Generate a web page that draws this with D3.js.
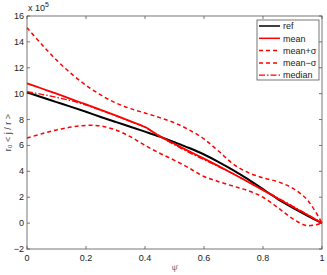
<!DOCTYPE html>
<html>
<head>
<meta charset="utf-8">
<script src="https://cdn.jsdelivr.net/npm/d3@7"></script>
<style>
  body { margin: 0; background: #fff; }
  svg { display: block; font-family: "Liberation Sans", Arial, sans-serif; }
</style>
</head>
<body>
<div id="chart"></div>
<script>
// psi grid shared by all curves
const psi = [0, 0.05, 0.1, 0.15, 0.2, 0.25, 0.3, 0.35, 0.4, 0.45, 0.5,
             0.55, 0.6, 0.65, 0.7, 0.75, 0.8, 0.85, 0.9, 0.95, 1];
// values in units of 1e5
const refVals    = [10.1, 9.72, 9.35, 8.98, 8.6, 8.2, 7.82, 7.45, 7.07, 6.68, 6.25,
                    5.8, 5.3, 4.72, 4.08, 3.38, 2.62, 1.86, 1.2, 0.58, 0];
const meanVals   = [10.8, 10.4, 10.0, 9.58, 9.17, 8.75, 8.32, 7.88, 7.42, 6.72, 6.12,
                    5.55, 4.98, 4.4, 3.8, 3.18, 2.55, 1.9, 1.27, 0.64, 0];
const plusVals   = [15.1, 13.8, 12.6, 11.55, 10.65, 9.9, 9.3, 8.85, 8.5, 8.15, 7.75,
                    7.2, 6.5, 5.55, 4.55, 3.9, 3.5, 3.2, 2.7, 1.8, 0];
const minusVals  = [6.57, 6.9, 7.2, 7.42, 7.55, 7.5, 7.2, 6.68, 6.0, 5.4, 4.85,
                    4.25, 3.6, 3.2, 2.85, 2.5, 2.0, 1.2, 0.35, -0.2, 0];
const medianVals = [10.15, 9.95, 9.72, 9.45, 9.12, 8.72, 8.3, 7.85, 7.4, 6.7, 6.05,
                    5.45, 4.9, 4.35, 3.8, 3.2, 2.58, 1.95, 1.32, 0.68, 0];

const xTicks = [0, 0.2, 0.4, 0.6, 0.8, 1];
const yTicks = [-2, 0, 2, 4, 6, 8, 10, 12, 14, 16];
const legendLabels = ["ref", "mean", "mean+\u03c3", "mean\u2212\u03c3", "median"];

const width = 327, height = 275;
const padL = 27, padR = 322, padT = 16, padB = 249;

const svg = d3.select("#chart").append("svg")
    .attr("width", width)
    .attr("height", height);

const x = d3.scaleLinear().domain([0, 1]).range([padL, padR]);
const y = d3.scaleLinear().domain([-2, 16]).range([padB, padT]);

const axisColor = "#555";

// ticks on all four sides, pointing inward
const ticks = svg.append("g").attr("stroke", axisColor).attr("stroke-width", 0.8);
xTicks.forEach(t => {
    ticks.append("line").attr("x1", x(t)).attr("x2", x(t)).attr("y1", padB).attr("y2", padB - 3);
    ticks.append("line").attr("x1", x(t)).attr("x2", x(t)).attr("y1", padT).attr("y2", padT + 3);
});
yTicks.forEach(t => {
    ticks.append("line").attr("x1", padL).attr("x2", padL + 3).attr("y1", y(t)).attr("y2", y(t));
    ticks.append("line").attr("x1", padR).attr("x2", padR - 3).attr("y1", y(t)).attr("y2", y(t));
});

svg.append("g").selectAll("text").data(xTicks).enter().append("text")
    .attr("x", d => x(d))
    .attr("y", padB + 12)
    .attr("text-anchor", "middle")
    .attr("font-size", 9)
    .attr("fill", "#222")
    .text(d => d3.format("")(d));

svg.append("g").selectAll("text").data(yTicks).enter().append("text")
    .attr("x", padL - 3)
    .attr("y", d => y(d) + 3)
    .attr("text-anchor", "end")
    .attr("font-size", 9)
    .attr("fill", "#222")
    .text(d => d < 0 ? "\u2212" + Math.abs(d) : d);

// curves
const line = (vals) => d3.line()
    .x((d, i) => x(psi[i]))
    .y(d => y(d))
    .curve(d3.curveCatmullRom.alpha(0.5))(vals);

const series = [
    {vals: refVals, color: "#000", w: 2, dash: null},
    {vals: meanVals, color: "#ff0000", w: 1.8, dash: null},
    {vals: plusVals, color: "#ff0000", w: 1.5, dash: "4,3"},
    {vals: minusVals, color: "#ff0000", w: 1.5, dash: "4,3"},
    {vals: medianVals, color: "#ff0000", w: 1.3, dash: "6,2,1.5,2"}
];

svg.append("g").selectAll("path").data(series).enter().append("path")
    .attr("d", d => line(d.vals))
    .attr("fill", "none")
    .attr("stroke", d => d.color)
    .attr("stroke-width", d => d.w)
    .attr("stroke-dasharray", d => d.dash);

// box
svg.append("rect")
    .attr("x", padL).attr("y", padT)
    .attr("width", padR - padL).attr("height", padB - padT)
    .attr("fill", "none")
    .attr("stroke", axisColor)
    .attr("stroke-width", 0.8);

// exponent label
const expo = svg.append("text")
    .attr("x", padL + 1)
    .attr("y", padT - 5)
    .attr("font-size", 9)
    .attr("fill", "#222");
expo.append("tspan").text("x 10");
expo.append("tspan").attr("dy", -4).attr("font-size", 7).text("5");

// axis labels
svg.append("text")
    .attr("transform", `translate(11,${(padT + padB) / 2}) rotate(-90)`)
    .attr("text-anchor", "middle")
    .attr("font-size", 9)
    .attr("fill", "#444")
    .text("r\u2080 < j / r >");

svg.append("text")
    .attr("x", (padL + padR) / 2)
    .attr("y", 270)
    .attr("text-anchor", "middle")
    .attr("font-size", 8)
    .attr("fill", "#666")
    .text("\u03c8\u0304");

// legend
const lg = svg.append("g");
lg.append("rect")
    .attr("x", 257).attr("y", 20)
    .attr("width", 62).attr("height", 60)
    .attr("fill", "#fff")
    .attr("stroke", axisColor)
    .attr("stroke-width", 0.8);

const rows = lg.selectAll("g").data(series).enter().append("g")
    .attr("transform", (d, i) => `translate(0,${26 + i * 12.3})`);
rows.append("line")
    .attr("x1", 259).attr("x2", 280)
    .attr("stroke", d => d.color)
    .attr("stroke-width", d => Math.min(d.w, 1.5))
    .attr("stroke-dasharray", d => d.dash);
rows.append("text")
    .attr("x", 283)
    .attr("y", 3.2)
    .attr("font-size", 9)
    .attr("fill", "#222")
    .text((d, i) => legendLabels[i]);
</script>
</body>
</html>
